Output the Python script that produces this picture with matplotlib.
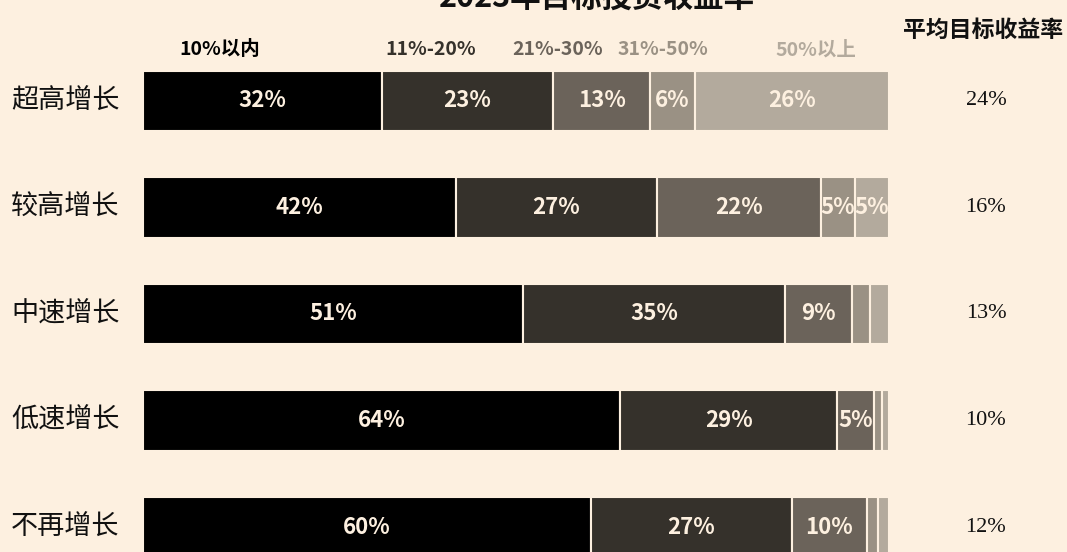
import numpy as np
import matplotlib.pyplot as plt

plt.rcParams['font.family'] = ['Noto Sans CJK SC', 'DejaVu Sans']

bg = '#fdf0e0'

title = '2023年目标投资收益率'
categories = ['超高增长', '较高增长', '中速增长', '低速增长', '不再增长']
ranges = ['10%以内', '11%-20%', '21%-30%', '31%-50%', '50%以上']
# share of respondents per return band (%)
band_10 = [32, 42, 51, 64, 60]
band_20 = [23, 27, 35, 29, 27]
band_30 = [13, 22, 9, 5, 10]
band_50 = [6, 4.6, 2.5, 1, 1.5]
band_over = [26, 4.6, 2.5, 1, 1.5]
avg_target = ['24%', '16%', '13%', '10%', '12%']

colors = ['#000000', '#35312b', '#6b635a', '#9a9184', '#b3aa9d']
bands = [band_10, band_20, band_30, band_50, band_over]

# rows are drawn as 100% stacked
totals = np.sum(np.array(bands, dtype=float), axis=0)

fig = plt.figure(figsize=(10.67, 5.52), dpi=100, facecolor=bg)
ax = fig.add_axes([0, 0, 1, 1])
ax.set_facecolor(bg)

# map figure pixels to data: bars 0..100 span px 143..889, rows every 106.5 px
px = 7.46
ax.set_xlim(-143 / px, (1067 - 143) / px)
ax.set_ylim((552 - 101) / 106.5, -101 / 106.5)
ax.axis('off')

y = np.arange(len(categories))
left = np.zeros(len(categories))
for vals, c in zip(bands, colors):
    raw = np.array(vals, dtype=float)
    w = raw / totals * 100
    ax.barh(y, w, left=left, height=0.565, color=c, edgecolor=bg, linewidth=1.5)
    for yi, v, wi, l in zip(y, raw, w, left):
        if v >= 4.5:
            ax.text(l + wi / 2, yi, '%.0f%%' % v, ha='center', va='center',
                    color=bg, fontsize=16, fontweight='bold')
    left += w

# category labels on the left
for yi, cat in zip(y, categories):
    ax.text(-17.7, yi, cat, ha='left', va='center', fontsize=19.5,
            fontweight='medium', color='#111111')

# average target return on the right
for yi, a in zip(y, avg_target):
    ax.text(113.0, yi, a, ha='center', va='center', fontsize=16,
            family='Liberation Serif', color='#111111')
ax.text(112.6, -0.667, '平均目标收益率', ha='center', va='center',
        fontsize=16.5, fontweight='bold', color='#111111')

# band legend across the top
legend_x = [10.3, 38.6, 55.6, 69.7, 90.2]
for lx, r, c in zip(legend_x, ranges, colors):
    ax.text(lx, -0.48, r, ha='center', va='center', fontsize=14,
            fontweight='bold', color=c)

ax.text(60.9, -0.89, title, ha='center', va='baseline', fontsize=22,
        fontweight='bold', color='#111111')

fig.savefig('out.png', dpi=100, facecolor=bg)
